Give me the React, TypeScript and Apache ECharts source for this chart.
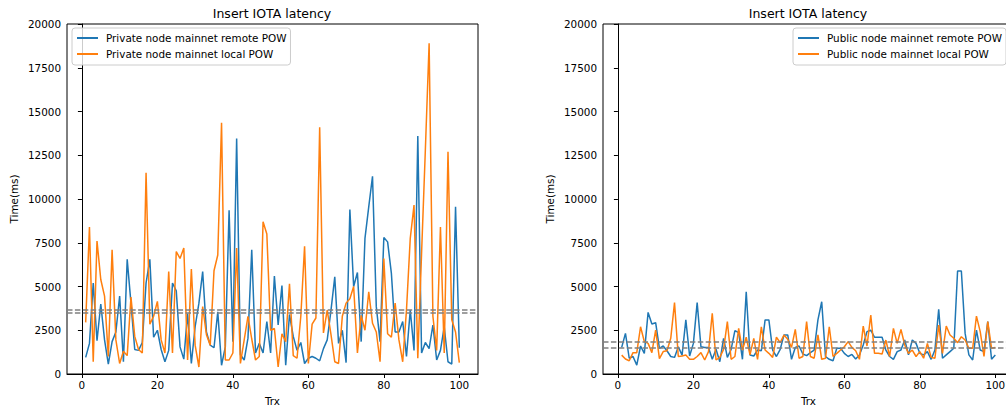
import React, { useEffect, useRef } from "react";
import * as echarts from "echarts";

// Transaction index (x values)
const trx: number[] = Array.from({ length: 100 }, (_, i) => i + 1);

const privateRemote: number[] = [
  950, 1750, 5200, 1900, 4000, 1950, 570, 1850, 2400, 4450,
  700, 6550, 4050, 1400, 1350, 1800, 5200, 6550, 2100, 2500,
  1400, 700, 1350, 5200, 4750, 1550, 850, 3450, 600, 2700,
  4050, 5850, 2400, 1650, 1500, 3550, 500, 1550, 9350, 1850,
  13450, 1100, 800, 2050, 7100, 1200, 1750, 1200, 3000, 1200,
  5600, 2800, 5050, 500, 3400, 2150, 1350, 1800, 600, 900,
  1000, 900, 750, 1450, 1950, 3650, 5550, 1750, 2500, 650,
  9400, 5000, 5800, 1850, 7750, 9550, 11300, 3850, 1850, 7800,
  7550, 5750, 2400, 2400, 3000, 1000, 3650, 1350, 13600, 1200,
  1800, 1450, 2800, 800, 1350, 2700, 700, 570, 9550, 1500,
];

const privateLocal: number[] = [
  2950, 8400, 700, 7600, 5400, 4450, 1000, 7100, 1950, 600,
  1300, 1050, 4400, 2150, 1400, 1200, 11500, 2850, 3300, 4150,
  1950, 1200, 5850, 1200, 7000, 6600, 7200, 800, 6000, 1650,
  400, 3850, 2250, 1650, 5900, 6800, 14350, 800, 800, 1200,
  7200, 600, 1950, 3300, 2000, 800, 1000, 8700, 8000, 2500,
  2600, 400, 2300, 1850, 5150, 1050, 900, 3300, 7300, 600,
  2850, 3200, 14100, 2350, 3650, 2250, 700, 600, 3300, 4050,
  4300, 5000, 1200, 3350, 2500, 4700, 2900, 2400, 700, 6600,
  2300, 2100, 4050, 1950, 700, 3650, 7750, 9650, 900, 6900,
  12800, 18900, 3300, 1350, 8400, 1200, 12700, 3100, 2400, 650,
];

const publicRemote: number[] = [
  1520, 2320, 900, 1000, 510, 1600, 1180, 3520, 2860, 2930,
  1470, 1600, 1330, 1000, 950, 1560, 1080, 3090, 1030, 1750,
  4080, 1560, 1520, 1520, 840, 1410, 700, 2040, 950, 1410,
  2480, 2360, 840, 4700, 1090, 1030, 1370, 1330, 3090, 3090,
  1370, 1000, 1410, 2230, 2230, 840, 1520, 1600, 1140, 1050,
  1220, 1370, 3090, 4130, 1000, 840, 760, 1470, 1470, 1180,
  1000, 1120, 860, 1090, 1660, 2420, 2510, 2100, 2100, 2100,
  1370, 1000, 840, 1280, 1370, 1940, 1090, 1940, 1750, 1180,
  1090, 1280, 840, 1370, 3700, 900, 1090, 1280, 1470, 5890,
  5890, 2320, 1090, 800, 2510, 1370, 1280, 2990, 840, 1090,
];

const publicLocal: number[] = [
  1080, 860, 760, 1220, 1220, 2700, 1850, 1750, 1220, 2510,
  880, 1280, 1330, 2040, 4080, 1000, 1030, 1080, 840, 840,
  1000, 1220, 800, 1280, 3470, 800, 950, 1410, 2990, 840,
  1000, 2610, 1370, 2100, 1090, 2040, 840, 2700, 1370, 1180,
  950, 2100, 1790, 2230, 1980, 1520, 2550, 900, 1000, 2990,
  1000, 900, 2230, 840, 900, 2700, 1000, 1180, 1370, 1560,
  1850, 1520, 1330, 840, 2740, 1600, 3370, 1180, 1180, 1140,
  1940, 1000, 2610, 1750, 2550, 1660, 1180, 1370, 1000, 1280,
  900, 1750, 950, 900, 2800, 1180, 2740, 2230, 2040, 1790,
  2130, 1940, 1470, 1470, 3310, 2420, 1000, 2990, 1470, 1520,
];

// Mean lines (dashed)
const privateMeans: number[] = [3700, 3520];
const publicMeans: number[] = [1830, 1500];

const xTicks: number[] = [0, 20, 40, 60, 80, 100];
const seriesNames: string[] = [
  "Private node mainnet remote POW",
  "Private node mainnet local POW",
  "Public node mainnet remote POW",
  "Public node mainnet local POW",
];
const chartTitle = "Insert IOTA latency";
const xName = "Trx";
const yName = "Time(ms)";

const FONT = "'DejaVu Sans', sans-serif";
const BLUE = "#1f77b4";
const ORANGE = "#ff7f0e";

export default function App() {
  const ref = useRef<HTMLDivElement>(null);

  useEffect(() => {
    if (!ref.current) return;
    const chart = echarts.init(ref.current, undefined, { renderer: "svg" });

    const grids = [
      { left: 67, top: 24, width: 411, height: 350 },
      { left: 603, top: 24, width: 411, height: 350 },
    ];

    const xAxes = [0, 1].map((gi) => ({
      type: "value",
      gridIndex: gi,
      min: -3.95,
      max: 104.95,
      axisLine: { show: true, onZero: false, lineStyle: { color: "#000", width: 1 } },
      axisTick: { show: true, inside: false, length: 4, lineStyle: { color: "#000" }, customValues: xTicks },
      axisLabel: { customValues: xTicks, color: "#000", fontSize: 10.4, fontFamily: FONT, margin: 6 },
      splitLine: { show: false },
      name: xName,
      nameLocation: "middle",
      nameGap: 22,
      nameTextStyle: { color: "#000", fontSize: 10.4, fontFamily: FONT },
    }));

    const yAxes = [0, 1].map((gi) => ({
      type: "value",
      gridIndex: gi,
      min: 0,
      max: 20000,
      interval: 2500,
      axisLine: { show: true, lineStyle: { color: "#000", width: 1 } },
      axisTick: { show: true, inside: false, length: 4, lineStyle: { color: "#000" } },
      axisLabel: {
        color: "#000",
        fontSize: 10.4,
        fontFamily: FONT,
        margin: 6,
        formatter: (v: number) => String(v),
      },
      splitLine: { show: false },
      name: yName,
      nameLocation: "middle",
      nameGap: 48,
      nameTextStyle: { color: "#000", fontSize: 10.4, fontFamily: FONT },
    }));

    const mkLine = (name: string, vals: number[], color: string, gi: number, means?: number[]) => ({
      type: "line",
      name,
      xAxisIndex: gi,
      yAxisIndex: gi,
      data: trx.map((x, i) => [x, vals[i]]),
      showSymbol: false,
      symbol: "none",
      lineStyle: { color, width: 1.5 },
      itemStyle: { color },
      emphasis: { disabled: true },
      markLine: means
        ? {
            silent: true,
            symbol: ["none", "none"],
            label: { show: false },
            emphasis: { disabled: true },
            lineStyle: { color: "#808080", type: [5.5, 2.4], width: 1.5 },
            data: means.map((m) => ({ yAxis: m })),
          }
        : undefined,
    });

    const legendBase = {
      orient: "vertical",
      top: 28,
      itemWidth: 21,
      itemHeight: 2,
      icon: "rect",
      itemGap: 4,
      padding: [4, 4, 5, 5],
      borderColor: "#cccccc",
      borderWidth: 1,
      borderRadius: 3,
      backgroundColor: "rgba(255,255,255,0.8)",
      textStyle: { fontSize: 10.4, fontFamily: FONT, color: "#000", lineHeight: 12, padding: [0, 0, 0, 3] },
    };

    chart.setOption({
      animation: false,
      backgroundColor: "#fff",
      grid: grids.map((g) => ({
        ...g,
        outerBoundsMode: "none",
        containLabel: false,
        show: true,
        borderColor: "#000",
        borderWidth: 1,
        backgroundColor: "transparent",
      })),
      xAxis: xAxes,
      yAxis: yAxes,
      legend: [
        { ...legendBase, left: 72, data: [seriesNames[0], seriesNames[1]] },
        { ...legendBase, left: 793, data: [seriesNames[2], seriesNames[3]] },
      ],
      graphic: [
        {
          type: "text",
          x: 272,
          y: 13,
          style: { text: chartTitle, align: "center", verticalAlign: "middle", fontSize: 12.5, fontFamily: FONT, fill: "#000" },
        },
        {
          type: "text",
          x: 808,
          y: 13,
          style: { text: chartTitle, align: "center", verticalAlign: "middle", fontSize: 12.5, fontFamily: FONT, fill: "#000" },
        },
      ],
      series: [
        mkLine(seriesNames[0], privateRemote, BLUE, 0),
        mkLine(seriesNames[1], privateLocal, ORANGE, 0, privateMeans),
        mkLine(seriesNames[2], publicRemote, BLUE, 1),
        mkLine(seriesNames[3], publicLocal, ORANGE, 1, publicMeans),
      ],
    });

    return () => chart.dispose();
  }, []);

  return (
    <div
      ref={ref}
      style={{ position: "fixed", left: 0, top: 0, width: 1006, height: 407, background: "#fff" }}
    />
  );
}
